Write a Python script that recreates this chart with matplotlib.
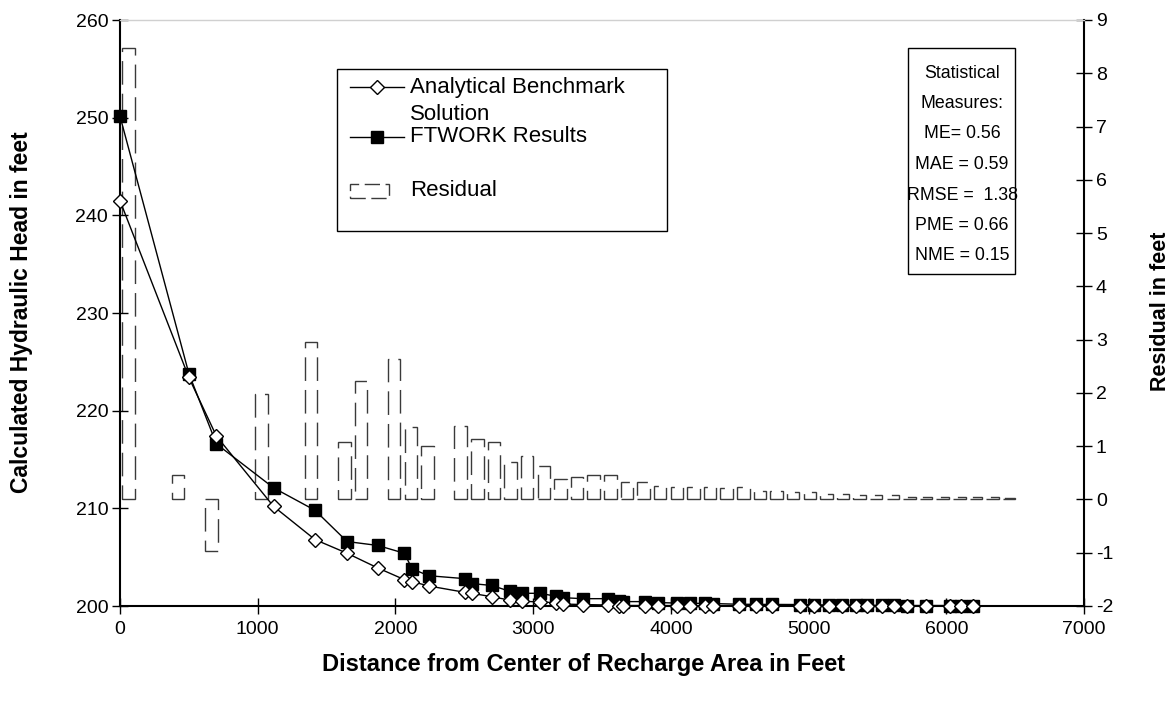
import matplotlib
matplotlib.use('Agg')
import matplotlib.pyplot as plt
from matplotlib.lines import Line2D
from matplotlib.patches import Rectangle

plt.rcParams['font.family'] = ['Liberation Sans', 'DejaVu Sans']
plt.rcParams['axes.unicode_minus'] = False

# ---------------- data ----------------
distance = [0, 500, 700, 1115, 1416, 1649, 1871, 2065, 2121, 2242,
            2504, 2553, 2700, 2832, 2921, 3050, 3164, 3217, 3362, 3544,
            3624, 3656, 3813, 3910, 4045, 4138, 4247, 4305, 4495, 4620,
            4735, 4940, 5040, 5145, 5245, 5345, 5425, 5535, 5620, 5716,
            5850, 6030, 6110, 6195]
analytical = [241.5, 223.4, 217.4, 210.2, 206.8, 205.4, 203.9, 202.7, 202.5, 202.05,
              201.4, 201.3, 200.95, 200.6, 200.5, 200.4, 200.35, 200.2, 200.15, 200.1,
              200.05, 200.05, 200.05, 200.05, 200.04, 200.03, 200.03, 200.02, 200.02, 200.02,
              200.01, 200.01, 200.01, 200.0, 200.0, 200.0, 200.0, 200.0, 200.0, 200.0,
              200.0, 200.0, 200.0, 200.0]
ftwork = [250.15, 223.8, 216.6, 212.1, 209.8, 206.6, 206.2, 205.4, 203.8, 203.1,
          202.8, 202.3, 202.1, 201.5, 201.3, 201.3, 201.0, 200.85, 200.75, 200.75,
          200.5, 200.45, 200.45, 200.35, 200.3, 200.28, 200.26, 200.25, 200.18, 200.17,
          200.16, 200.15, 200.12, 200.11, 200.1, 200.1, 200.09, 200.06, 200.06, 200.05,
          200.05, 200.05, 200.04, 200.04]

# residual columns, one per category slot (None = no column)
residual = [8.47, None, None, 0.46, None, -0.96, None, None, 1.98, None,
            None, 2.95, None, 1.07, 2.22, None, 2.63, 1.36, 1.00, None,
            1.37, 1.14, 1.07, 0.71, 0.81, 0.62, 0.39, 0.43, 0.45, 0.45,
            0.33, 0.33, 0.26, 0.24, 0.24, 0.23, 0.22, 0.23, 0.15, 0.15,
            0.14, 0.14, 0.10, 0.10, 0.09, 0.09, 0.08, 0.05, 0.05, 0.04,
            0.04, 0.04, 0.04, 0.03, None, None, None, None]

x_ticks = [0, 1000, 2000, 3000, 4000, 5000, 6000, 7000]
head_ticks = [200, 210, 220, 230, 240, 250, 260]
res_ticks = [-2, -1, 0, 1, 2, 3, 4, 5, 6, 7, 8, 9]

legend_labels = ["Analytical Benchmark", "Solution", "FTWORK Results", "Residual"]
stats_lines = ["Statistical", "Measures:", "ME= 0.56", "MAE = 0.59",
               "RMSE =  1.38", "PME = 0.66", "NME = 0.15"]

# ---------------- figure ----------------
W, H = 1175, 704
fig = plt.figure(figsize=(W / 100, H / 100), dpi=100)
L, R, T, B = 120, 1084, 20, 606
ax = fig.add_axes([L / W, 1 - B / H, (R - L) / W, (B - T) / H])
ax2 = ax.twinx()
ax3 = ax2.twiny()

ax.set_zorder(2)
ax.patch.set_visible(False)

# residual columns
idx = [i for i, v in enumerate(residual) if v is not None]
vals = [residual[i] for i in idx]
ax3.bar(idx, vals, width=0.75, facecolor='none', edgecolor='#3a3a3a',
        linewidth=1.0, linestyle=(0, (17, 6.5)))
ax3.set_xlim(-0.5, len(residual) - 0.5)
ax3.set_xticks([])
for s in ax3.spines.values():
    s.set_visible(False)

# lines
ax.plot(distance, ftwork, color='black', lw=1.0, marker='s', ms=8.5,
        mfc='black', mec='black', zorder=3, clip_on=False)
ax.plot(distance, analytical, color='black', lw=1.0, marker='D', ms=7,
        mfc='white', mec='black', mew=1.0, zorder=4, clip_on=False)

ax.set_xlim(0, 7000)
ax.set_ylim(200, 260)
ax.set_xticks(x_ticks)
ax.set_yticks(head_ticks)
ax2.set_ylim(-2, 9)
ax2.set_yticks(res_ticks)

for a in (ax, ax2):
    a.tick_params(direction='inout', length=11, width=1, labelsize=14, colors='black')
ax.tick_params(axis='x', pad=5)
ax.tick_params(axis='y', pad=3)
ax2.tick_params(axis='y', pad=3)

for a in (ax, ax2, ax3):
    a.spines['top'].set_visible(False)
for a in (ax, ax2):
    for side in ('left', 'right', 'bottom'):
        a.spines[side].set_linewidth(1.5)
ax.spines['right'].set_visible(False)
ax2.spines['left'].set_visible(False)
ax2.spines['bottom'].set_visible(False)
ax.spines['top'].set_visible(True)
ax.spines['top'].set_color('#d0d0d0')
ax.spines['top'].set_linewidth(1.0)

# axis titles
fig.text(22 / W, 1 - 312 / H, "Calculated Hydraulic Head in feet", rotation=90,
         ha='center', va='center', fontsize=16.5, fontweight='bold')
fig.text(1160 / W, 1 - 311 / H, "Residual in feet", rotation=90,
         ha='center', va='center', fontsize=15.5, fontweight='bold')
fig.text(584 / W, 1 - 665 / H, "Distance from Center of Recharge Area in Feet",
         ha='center', va='center', fontsize=17, fontweight='bold')

# legend (drawn manually)
def fx(px):
    return px / W

def fy(py):
    return 1 - py / H

fig.patches.append(Rectangle((fx(337), fy(231)), fx(667) - fx(337), fy(69) - fy(231),
                             transform=fig.transFigure, facecolor='white',
                             edgecolor='black', lw=1.0, zorder=5))
fig.lines.append(Line2D([fx(350), fx(404)], [fy(87), fy(87)], transform=fig.transFigure,
                        color='black', lw=1.0, zorder=6))
fig.lines.append(Line2D([fx(377)], [fy(87)], transform=fig.transFigure, marker='D', ms=7,
                        mfc='white', mec='black', mew=1.0, zorder=7))
fig.lines.append(Line2D([fx(350), fx(404)], [fy(137), fy(137)], transform=fig.transFigure,
                        color='black', lw=1.0, zorder=6))
fig.lines.append(Line2D([fx(377)], [fy(137)], transform=fig.transFigure, marker='s', ms=8.5,
                        mfc='black', mec='black', zorder=7))
fig.patches.append(Rectangle((fx(350), fy(198)), fx(389) - fx(350), fy(184) - fy(198),
                             transform=fig.transFigure, facecolor='none',
                             edgecolor='#3a3a3a', lw=1.0, linestyle=(0, (11, 4)), zorder=6))
for lab, yy in zip(legend_labels, [88, 114, 137, 190]):
    fig.text(fx(410), fy(yy), lab, ha='left', va='center', fontsize=16, zorder=7)

# statistics box
fig.patches.append(Rectangle((fx(908), fy(274)), fx(1015) - fx(908), fy(48) - fy(274),
                             transform=fig.transFigure, facecolor='white',
                             edgecolor='black', lw=1.0, zorder=5))
for k, line in enumerate(stats_lines):
    fig.text(fx(962), fy(73 + k * 30.5), line, ha='center', va='center',
             fontsize=12.8, zorder=7)

fig.savefig('out.png', dpi=100)
